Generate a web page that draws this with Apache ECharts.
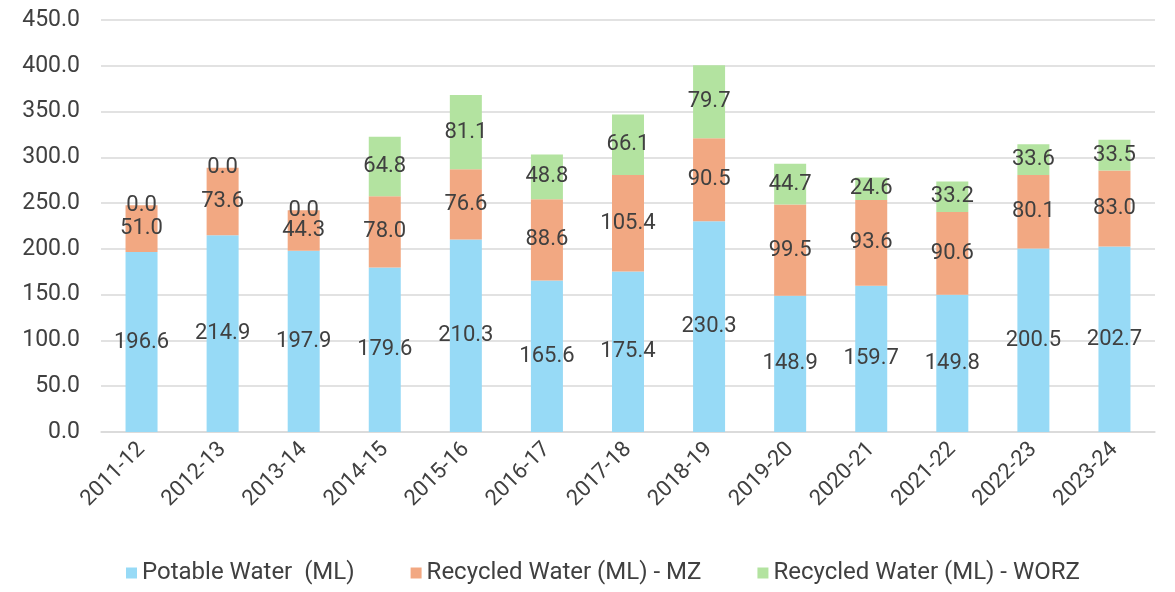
<!DOCTYPE html>
<html><head><meta charset="utf-8">
<script src="https://cdn.jsdelivr.net/npm/echarts@6/dist/echarts.min.js"></script>
<style>html,body{margin:0;padding:0;background:#fff}#c{width:1175px;height:592px}</style>
</head><body><div id="c"></div>
<script>
const categories = ['2011-12','2012-13','2013-14','2014-15','2015-16','2016-17','2017-18','2018-19','2019-20','2020-21','2021-22','2022-23','2023-24'];
const potable = [196.6,214.9,197.9,179.6,210.3,165.6,175.4,230.3,148.9,159.7,149.8,200.5,202.7];
const recycledMZ = [51.0,73.6,44.3,78.0,76.6,88.6,105.4,90.5,99.5,93.6,90.6,80.1,83.0];
const recycledWORZ = [0.0,0.0,0.0,64.8,81.1,48.8,66.1,79.7,44.7,24.6,33.2,33.6,33.5];
const seriesNames = ['Potable Water  (ML)','Recycled Water (ML) - MZ','Recycled Water (ML) - WORZ'];
const colors = ['#97DAF6','#F2A882','#B3E3A0'];
const font = 'Roboto, "Liberation Sans", sans-serif';
const chart = echarts.init(document.getElementById('c'));
const mk = (name, data, color) => ({
  name, type: 'bar', stack: 'a', data, barWidth: 32,
  itemStyle: { color },
  label: { show: true, position: 'inside', color: '#404040', fontSize: 22, fontFamily: font,
           formatter: p => p.value.toFixed(1) }
});
chart.setOption({
  animation: false,
  grid: { left: 101, right: 20, top: 20, bottom: 160 },
  legend: { bottom: 2, left: 121, itemWidth: 11, itemHeight: 11, itemGap: 56, icon: 'rect',
            textStyle: { fontSize: 24, color: '#404040', fontFamily: font } },
  xAxis: { type: 'category', data: categories,
           axisLine: { lineStyle: { color: '#D9D9D9', width: 1.5 } }, axisTick: { show: false },
           axisLabel: { rotate: 45, fontSize: 22, color: '#404040', fontFamily: font, margin: 14, interval: 0 } },
  yAxis: { type: 'value', min: 0, max: 450, interval: 50,
           axisLine: { show: false }, axisTick: { show: false },
           splitLine: { lineStyle: { color: '#D9D9D9', width: 1.5 } },
           axisLabel: { fontSize: 23, color: '#404040', fontFamily: font, margin: 21, formatter: v => v.toFixed(1) } },
  series: [mk(seriesNames[0], potable, colors[0]), mk(seriesNames[1], recycledMZ, colors[1]), mk(seriesNames[2], recycledWORZ, colors[2])]
});
</script></body></html>
